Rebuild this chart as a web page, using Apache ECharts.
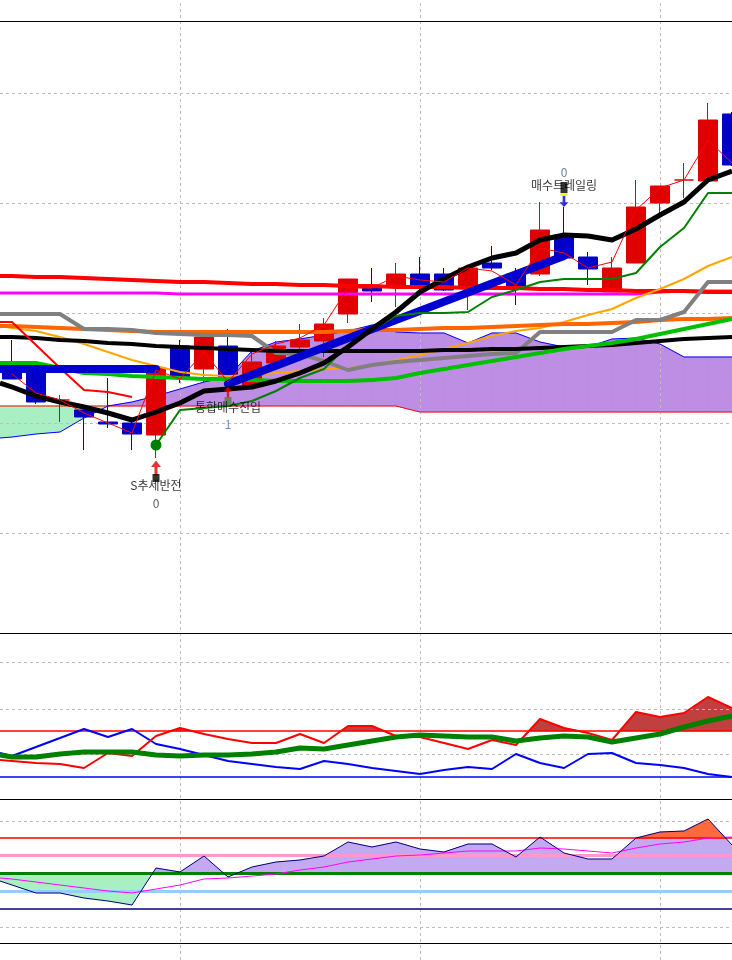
<!DOCTYPE html>
<html>
<head>
<meta charset="utf-8">
<style>
html, body { margin: 0; padding: 0; background: #fff; }
#container { width: 732px; height: 960px; }
</style>
<script src="https://cdn.jsdelivr.net/npm/echarts@6/dist/echarts.min.js"></script>
</head>
<body>
<div id="container"></div>
<script>
var FONT = '"Noto Sans CJK KR", "Noto Sans", sans-serif';
var RED = '#E00000', BLUE = '#0000C8';
var GRIDC = '#BDBDBD';

// ---- price pane: 31 candles (index 0..30) ----
var open  = [2670,2660,2330,2230,2110,2100,1980,2870,2640,2870,2480,2700,2860,2920,3190,3460,3470,3590,3590,3470,3700,3590,3590,3980,3760,3410,3700,4300,4530,4520,5190];
var close = [2540,2310,2330,2160,2090,1990,2650,2560,2960,2560,2710,2870,2930,3090,3540,3420,3590,3470,3430,3650,3650,3470,4030,3750,3640,3650,4260,4470,4530,5130,4680];
var low   = [2540,2290,2110,1830,2050,1830,1750,2500,2500,2450,2470,2650,2780,2760,3100,3310,3260,3430,3420,3230,3630,3280,3570,3750,3480,3410,3700,4200,4350,4520,4670];
var high  = [2930,2680,2380,2280,2550,2120,2670,2930,2990,3040,2810,2920,3090,3150,3540,3650,3700,3760,3650,3670,3870,3650,4310,4260,3810,3760,4530,4470,4700,5300,5210];

// overlay lines: first value is the one read at the left edge, then candles 0..30
var redTop      = [3570,3570,3560,3560,3550,3540,3530,3520,3510,3510,3500,3490,3490,3480,3480,3470,3470,3460,3460,3460,3450,3450,3450,3440,3440,3430,3430,3420,3420,3420,3410,3410];
var magentaLine = [3400,3400,3400,3400,3400,3400,3400,3400,3390,3390,3390,3390,3390,3390,3390,3390,3390,3390,3390,3390,3390,3390,3390,3390,3390,3390,3390,3390,3410,3420,3420,3420];
var grayLine    = [3190,3190,3190,3190,3040,3040,3030,3000,2990,2980,2980,2970,2800,2790,2720,2630,2680,2710,2730,2750,2770,2790,2800,3010,3010,3010,3010,3130,3130,3210,3510,3510];
var orangeLine  = [3070,3070,3060,3050,3040,3030,3020,3010,3010,3010,3010,3010,3010,3010,3010,3020,3030,3030,3040,3050,3050,3060,3070,3080,3090,3090,3100,3110,3130,3140,3140,3150];
var amberLine   = [3070,3050,3020,2960,2890,2810,2730,2670,2610,2580,2570,2580,2600,2620,2640,2650,2670,2730,2780,2840,2900,2970,3020,3050,3110,3180,3240,3350,3440,3540,3670,3760];
var blackSlow   = [2960,2960,2950,2930,2920,2900,2890,2870,2860,2850,2840,2830,2820,2820,2820,2820,2820,2820,2820,2830,2830,2840,2840,2850,2860,2870,2880,2900,2920,2940,2950,2960];
var blackFast   = [2500,2460,2370,2310,2260,2200,2130,2210,2300,2420,2440,2460,2520,2600,2700,2860,3040,3210,3410,3540,3660,3750,3800,3930,3980,3970,3930,4040,4180,4310,4530,4620];
var greenLine   = [2700,2700,2700,2650,2600,2590,2570,2560,2550,2540,2540,2530,2520,2520,2520,2520,2530,2550,2600,2640,2680,2720,2760,2800,2840,2870,2900,2940,2990,3040,3090,3140];
var redShort    = [3110,3110,2880,2650,2430,2410,2360];           // left edge .. candle 5
var spanA       = [1950,1960,1990,2010,2150,2270,2310,2370,2440,2510,2560,2820,2910,2940,2980,3020,3080,3010,3000,3000,2900,3000,3000,2910,2860,2860,2940,2950,2890,2760,2760,2760];
var spanB       = [2270,2270,2270,2270,2270,2270,2270,2270,2270,2270,2270,2270,2270,2270,2270,2270,2270,2270,2210,2210,2210,2210,2210,2210,2210,2210,2210,2210,2210,2210,2210,2210];
// these start at a candle index
var thinRed     = [2590,2400,2330,2200,2100,2000,2630,2540,2810,2510,2790,2890,2950,3080,3450,3450,3570,3530,3510,3650,3620,3480,3850,3800,3650,3710,4230,4450,4530,4930,4700]; // from 0
var darkGreen   = [1880,2230,2250,2270,2320,2420,2550,2640,2880,3030,3170,3200,3200,3210,3360,3430,3510,3540,3540,3540,3600,3860,4050,4400,4400]; // from 6
var trendFrom   = [-0.5, 9];
var trendTo     = [6, 23];
var trendFromV  = [2640, 2490];
var trendToV    = [2640, 3770];
var priceGrid   = [5400, 4300, 3200, 2100, 1000];

// signals
var signalIdx   = [6, 9, 23];
var signalText  = ['S추세반전', '통합매수진입', '매수트레일링'];
var signalCount = ['0', '1', '0'];

// ---- pane 2 ----
var osc2Red   = [39,38,36,35,31,46,43,63,71,65,60,56,56,65,56,73,73,63,62,56,50,59,54,80,71,66,59,87,82,86,102,91];
var osc2Blue  = [46,43,52,61,70,62,70,55,50,44,38,35,32,30,38,35,31,28,25,29,32,30,45,36,31,45,46,36,34,31,25,22];
var osc2Green = [44,42,42,45,47,47,47,44,43,44,44,45,47,51,50,54,58,62,64,63,62,62,58,61,63,62,57,61,65,72,78,83];
var p2Upper = 68, p2Lower = 22;
var p2Grid  = [137, 90, 45];

// ---- pane 3 ----
var osc3    = [-8,-12,-20,-20,-25,-28,-32,5,1,17,-4,6,11,13,17,31,26,31,24,21,29,29,16,36,20,14,14,35,41,42,54,28];
var signal3 = [-5,-6,-9,-12,-15,-18,-20,-16,-12,-6,-5,-3,-1,3,6,11,14,17,18,20,22,22,22,25,24,22,20,25,29,31,35,36];
var p3Upper = 35;
var p3Levels = [
  { v: 35, color: '#FF0000', width: 1.5 },
  { v: 18, color: '#FF99CC', width: 3 },
  { v: 0, color: '#008000', width: 3 },
  { v: -18, color: '#99CCFF', width: 3 },
  { v: -36, color: '#000080', width: 1.5 }
];
var p3Grid = [52, -54];

// layout helpers (background grid uses 960 - pixel)
var vGrid = [7, 17, 27];
var paneEdges = [938.5, 326.5, 160.5, 16.5];

var lineX = [-0.5];
for (var i = 0; i <= 30; i++) lineX.push(i);

function pts(vals, start) {
  return vals.map(function (v, k) { return [start == null ? lineX[k] : start + k, v]; });
}
function clamp(v, lo, hi) { return Math.min(Math.max(v, lo), hi); }
function line(grid, data, color, width, z) {
  return {
    type: 'line', xAxisIndex: grid, yAxisIndex: grid, data: data, symbol: 'none',
    lineStyle: { color: color, width: width, join: 'round' },
    z: z == null ? 3 : z, silent: true, animation: false
  };
}
function marks(data, z) {
  return { silent: true, symbol: 'none', z: z, animation: false, label: { show: false },
    emphasis: { disabled: true }, data: data };
}
function hl(v, color, width, dashed) {
  return { yAxis: v, lineStyle: { color: color, width: width, type: dashed ? [3, 3] : 'solid' } };
}
// area between a line and a level, coloured by value bands
function bandFill(grid, vals, origin, bands, z) {
  return {
    type: 'custom', xAxisIndex: grid, yAxisIndex: grid, z: z, silent: true, animation: false,
    data: pts(vals), encode: { x: 0, y: 1 },
    renderItem: function (params, api) {
      var k = params.dataIndex;
      if (k >= vals.length - 1) return null;
      var x0 = lineX[k], x1 = lineX[k + 1], v0 = vals[k], v1 = vals[k + 1];
      var ts = [0, 1], cuts = [origin];
      bands.forEach(function (b) {
        if (isFinite(b.lo)) cuts.push(b.lo);
        if (isFinite(b.hi)) cuts.push(b.hi);
      });
      cuts.forEach(function (c) {
        if ((v0 - c) * (v1 - c) < 0) ts.push((c - v0) / (v1 - v0));
      });
      ts.sort(function (a, b) { return a - b; });
      var children = [];
      for (var s = 0; s < ts.length - 1; s++) {
        var xa = x0 + (x1 - x0) * ts[s], xb = x0 + (x1 - x0) * ts[s + 1];
        var fa = v0 + (v1 - v0) * ts[s], fb = v0 + (v1 - v0) * ts[s + 1];
        bands.forEach(function (b) {
          var ua = clamp(fa, b.lo, b.hi), ub = clamp(fb, b.lo, b.hi), o = clamp(origin, b.lo, b.hi);
          if (ua === o && ub === o) return;
          children.push({
            type: 'polygon',
            shape: { points: [api.coord([xa, ua]), api.coord([xb, ub]), api.coord([xb, o]), api.coord([xa, o])] },
            style: { fill: b.color, stroke: b.color, lineWidth: 0.5 }
          });
        });
      }
      return { type: 'group', children: children };
    }
  };
}

var series = [];

// background: vertical dotted grid and pane borders
var bg = line(0, [[0, 0]], 'transparent', 0, 0);
bg.markLine = marks(
  vGrid.map(function (x) { return { xAxis: x, lineStyle: { color: GRIDC, width: 1, type: [3, 3] } }; })
    .concat(paneEdges.map(function (y) { return hl(y, '#000', 1, false); })), 1.5);
series.push(bg);

// cloud between span A and span B
series.push({
  type: 'custom', xAxisIndex: 1, yAxisIndex: 1, z: 1, silent: true, animation: false,
  data: spanA.map(function (a, k) { return [lineX[k], a, spanB[k]]; }),
  encode: { x: 0, y: [1, 2] },
  renderItem: function (params, api) {
    var k = params.dataIndex;
    if (k >= lineX.length - 1) return null;
    var a0 = api.coord([lineX[k], spanA[k]]), a1 = api.coord([lineX[k + 1], spanA[k + 1]]);
    var b0 = api.coord([lineX[k], spanB[k]]), b1 = api.coord([lineX[k + 1], spanB[k + 1]]);
    var fill = (spanA[k] + spanA[k + 1] >= spanB[k] + spanB[k + 1]) ? '#BE8EE4' : '#A8F0C4';
    return { type: 'polygon', shape: { points: [a0, a1, b1, b0] }, style: { fill: fill, stroke: fill, lineWidth: 0.6 } };
  }
});

var sb = line(1, pts(spanB), '#FF0000', 1, 1.6);
sb.markLine = marks(priceGrid.map(function (v) { return hl(v, GRIDC, 1, true); }), 1.5);
series.push(sb);
series.push(line(1, pts(spanA), '#0000FF', 1, 1.6));

series.push({
  type: 'candlestick', xAxisIndex: 1, yAxisIndex: 1, z: 2, silent: true, animation: false,
  barWidth: 20,
  data: open.map(function (o, k) { return [k, o, close[k], low[k], high[k]]; }),
  itemStyle: { color: RED, color0: BLUE, borderColor: RED, borderColor0: BLUE, borderColorDoji: RED, borderWidth: 1 }
});

series.push(line(1, pts(magentaLine), '#FF00FF', 3));
series.push(line(1, pts(redTop), '#FF0000', 4));
series.push(line(1, pts(amberLine), '#FFA500', 2));
series.push(line(1, pts(orangeLine), '#FF6600', 4));
series.push(line(1, pts(grayLine), '#808080', 4));
series.push(line(1, pts(blackSlow), '#000000', 4));
series.push(line(1, pts(greenLine), '#00C000', 4));
series.push(line(1, pts(redShort), '#FF0000', 2));
for (var t = 0; t < trendFrom.length; t++) {
  var tr = line(1, [[trendFrom[t], trendFromV[t]], [trendTo[t], trendToV[t]]], '#0000D0', 8);
  tr.lineStyle.cap = 'round';
  series.push(tr);
}
var dg = line(1, pts(darkGreen, 6), '#008000', 2);
dg.data[0] = { value: dg.data[0], symbol: 'circle', symbolSize: 11, itemStyle: { color: '#008000' } };
dg.showSymbol = true;
series.push(dg);
series.push(line(1, pts(blackFast), '#000000', 5));
series.push(line(1, pts(thinRed, 0), '#FF0000', 1));

// signal markers
var ARROW = 'path://M5,0L10,6L6.5,6L6.5,14L3.5,14L3.5,6L0,6Z';
var markers = [];
function mk(i, v, dy, sym, size, color, rot) {
  markers.push({ value: [i, v], symbol: sym, symbolSize: size, symbolOffset: [0, dy],
    symbolRotate: rot || 0, itemStyle: { color: color } });
}
function tx(i, v, dy, text, color) {
  markers.push({ value: [i, v], symbol: 'circle', symbolSize: 1, itemStyle: { color: 'transparent' },
    label: { show: true, position: 'inside', offset: [0, dy], formatter: text, color: color,
      fontSize: 12, fontFamily: FONT, textBorderWidth: 0 } });
}
var s0 = signalIdx[0], s1 = signalIdx[1], s2 = signalIdx[2];
mk(s0, low[s0], 10, ARROW, [10, 15], RED);
mk(s0, low[s0], 20, 'rect', [7, 8], '#000');
tx(s0, low[s0], 27, signalText[0], '#000');
tx(s0, low[s0], 45, signalCount[0], '#333');
mk(s1, low[s1], 4, ARROW, [8, 11], RED);
mk(s1, low[s1], 13, 'rect', [7, 8], '#4F7F3F');
tx(s1, low[s1], 19, signalText[1], '#000');
tx(s1, low[s1], 36, signalCount[1], '#3F76B6');
mk(s2, high[s2], -5.5, ARROW, [9, 11], BLUE, 180);
mk(s2, high[s2], -12.5, 'rect', [7, 3], '#FFE600');
mk(s2, high[s2], -19.5, 'rect', [7, 11], '#000');
tx(s2, high[s2], -22, signalText[2], '#000');
tx(s2, high[s2], -35, signalCount[2], '#3F5F90');
series.push({ type: 'scatter', xAxisIndex: 1, yAxisIndex: 1, z: 5, silent: true, animation: false, data: markers });

// pane 2
series.push(bandFill(2, osc2Red, p2Upper, [{ lo: p2Upper, hi: Infinity, color: '#C04040' }], 2));
var p2b = line(2, pts(osc2Blue), '#0000FF', 2);
p2b.markLine = marks(p2Grid.map(function (v) { return hl(v, GRIDC, 1, true); })
  .concat([hl(p2Upper, '#FF0000', 1.5, false), hl(p2Lower, '#0000FF', 1.5, false)]), 2.5);
series.push(p2b);
series.push(line(2, pts(osc2Red), '#FF0000', 2));
series.push(line(2, pts(osc2Green), '#008000', 5));

// pane 3
series.push(bandFill(3, osc3, 0, [
  { lo: -Infinity, hi: 0, color: '#A8F0C4' },
  { lo: 0, hi: p3Upper, color: '#C4A8F0' },
  { lo: p3Upper, hi: Infinity, color: '#FF6A3C' }
], 2));
var p3m = line(3, pts(signal3), '#FF00FF', 1);
p3m.markLine = marks(p3Grid.map(function (v) { return hl(v, GRIDC, 1, true); })
  .concat(p3Levels.map(function (l) { return hl(l.v, l.color, l.width, false); })), 2.5);
series.push(p3m);
series.push(line(3, pts(osc3), '#000080', 1, 4));

var grids = [
  { left: 0, right: 0, top: 0, height: 960 },
  { left: 0, right: 0, top: 21, height: 612 },
  { left: 0, right: 0, top: 633, height: 166 },
  { left: 0, right: 0, top: 799, height: 144 }
];
var yRange = [[0, 960], [0, 6120], [0, 166], [-70, 74]];

var myChart = echarts.init(document.getElementById('container'), null, { renderer: 'canvas' });
var option = {
  backgroundColor: '#ffffff',
  animation: false,
  grid: grids,
  xAxis: grids.map(function (g, k) {
    return { type: 'value', gridIndex: k, min: -0.5, max: 30, show: false };
  }),
  yAxis: grids.map(function (g, k) {
    return { type: 'value', gridIndex: k, min: yRange[k][0], max: yRange[k][1], show: false };
  }),
  series: series
};
myChart.setOption(option);
</script>
</body>
</html>
